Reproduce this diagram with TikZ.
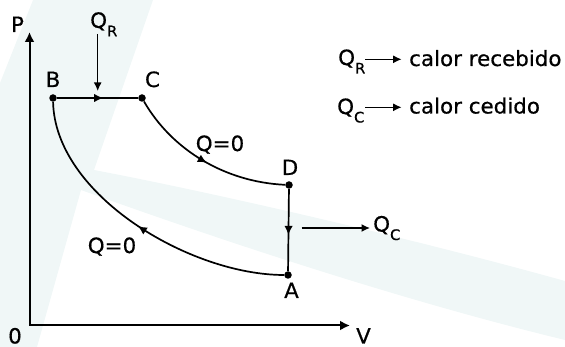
\documentclass[tikz,border=0pt]{standalone}
\usepackage{fontspec}
\setmainfont{DejaVu Sans}[FakeStretch=1.02,FakeBold=0.5]
\usetikzlibrary{arrows.meta,decorations.markings}
\definecolor{wmark}{RGB}{240,247,247}
\newcommand{\lowsub}[1]{\raisebox{-8.5pt}{\fontsize{14.5}{14.5}\selectfont #1}}

\begin{document}
\begin{tikzpicture}[x=1pt,y=-1pt,
  txt/.style={inner sep=0pt,anchor=base,font=\fontsize{21}{25}\selectfont},
  vtx/.style={circle,fill,inner sep=0pt,minimum size=7.5pt},
  ax/.style={line width=2pt,{Latex[length=10pt,width=10pt]}-{Latex[length=10pt,width=10pt]}},
  proc/.style={line width=1.7pt},
  tip/.style={line width=1.5pt,-{Latex[length=8.5pt,width=8pt]}},
  midarrow/.style={postaction={decorate},decoration={markings,
    mark=at position #1 with {\arrow{Latex[length=9pt,width=8.5pt]}}}}]

\useasboundingbox (0,0) rectangle (565,347);

% faint background mark
\fill[wmark] (33,0) -- (153,0) -- (94,170)
  .. controls (200,190) and (400,235) .. (565,281) -- (565,340)
  .. controls (400,300) and (220,240) .. (81,190)
  -- (37,347) -- (0,347) -- (0,83) -- cycle;

% axes
\coordinate (orig) at (29.5,325.5);
\coordinate (ptop) at (29.5,32);
\coordinate (vend) at (350,325.5);
\draw[ax] (ptop) -- (orig) -- (vend);
\node[txt] (P) at (17.5,32) {P};
\node[txt] (V) at (363.5,343.5) {V};
\node[txt] (O) at (15,343.5) {0};

% cycle states
\node[vtx] (B) at (53,98) {};
\node[vtx] (C) at (142,98) {};
\node[vtx] (D) at (289,185) {};
\node[vtx] (A) at (288,275) {};
\node[txt] (labB) at (53,87) {B};
\node[txt] (labC) at (152.5,87) {C};
\node[txt] (labD) at (290,175) {D};
\node[txt] (labA) at (291.5,298) {A};

\draw[proc,midarrow=0.57] (B) -- (C);
\draw[proc,midarrow=0.52] (C) .. controls (172,150) and (225,182) .. (D);
\draw[proc,midarrow=0.56] (D) -- (A);
\draw[proc,midarrow=0.5] (A) .. controls (190,275) and (55,195) .. (B);

\node[txt] (q0up) at (220,151) {Q=0};
\node[txt] (q0lo) at (112,253) {Q=0};

% heat in and out
\node[txt,anchor=base west] (qr) at (90,27.8) {Q\lowsub{R}};
\coordinate (qrs) at (97.7,34);
\coordinate (qre) at (97.7,91);
\draw[tip] (qrs) -- (qre);

\node[txt,anchor=base west] (qc) at (373,231.5) {Q\lowsub{C}};
\coordinate (qcs) at (301.5,228);
\coordinate (qce) at (370,228);
\draw[tip] (qcs) -- (qce);

% legend
\node[txt,anchor=base west] (lgqr) at (338,65) {Q\lowsub{R}};
\node[txt,anchor=base west] (lgrec) at (409,66) {calor recebido};
\coordinate (lgrs) at (365,59.3);
\coordinate (lgre) at (401.7,59.3);
\draw[tip] (lgrs) -- (lgre);

\node[txt,anchor=base west] (lgqc) at (337,114) {Q\lowsub{C}};
\node[txt,anchor=base west] (lgced) at (409,113.5) {calor cedido};
\coordinate (lgcs) at (365,107.3);
\coordinate (lgce) at (401.7,107.3);
\draw[tip] (lgcs) -- (lgce);

\end{tikzpicture}
\end{document}
